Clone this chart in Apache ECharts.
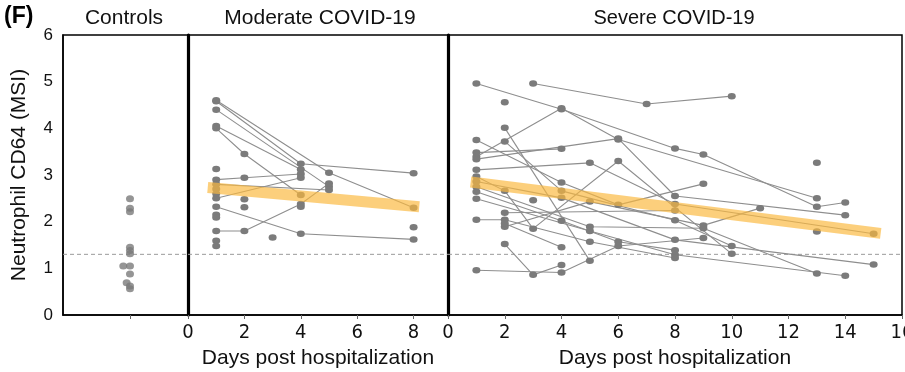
<!DOCTYPE html>
<html><head><meta charset="utf-8">
<script src="https://cdn.jsdelivr.net/npm/echarts@6/dist/echarts.min.js"></script>
<style>html,body{margin:0;padding:0;background:#fff}#c{width:905px;height:372px}</style>
</head><body><div id="c"></div>
<script>
// ---- data ----
const panelTitles = ['Controls', 'Moderate COVID-19', 'Severe COVID-19'];
const yAxisTitle = 'Neutrophil CD64 (MSI)';
const xAxisTitle = 'Days post hospitalization';
const panelLetter = '(F)';
const yMin = 0, yMax = 6, yStep = 1;
const dayStep = 2;
const controlsXMax = 1.866;
const moderateDayMax = 9.22;
const severeDayMax = 16;
const thresholdValue = 1.3;

const controlsX = [1, 1, 1, 1, 1, 1, 0.9, 1, 1, 0.95, 1, 1];
const controlsY = [2.49, 2.29, 2.21, 1.45, 1.38, 1.31, 1.05, 1.05, 0.88, 0.69, 0.62, 0.56];

const moderateSubjects = [
  [[1,4.58],[4,3.24],[8,3.04]],
  [[1,4.6],[5,3.05],[8,2.3]],
  [[1,4.4],[5,2.75]],
  [[1,4.05],[4,3.12]],
  [[1,4.0],[2,3.45],[4,2.57]],
  [[1,2.9],[2,2.94],[4,3.02]],
  [[1,2.5],[4,2.94]],
  [[1,2.32],[4,1.74],[8,1.62]],
  [[1,1.8],[2,1.8],[4,2.38],[5,2.82]],
  [[1,2.8],[5,2.68]],
  [[1,3.13]],[[1,2.7]],[[1,2.6]],[[1,2.15]],[[1,2.09]],[[1,1.59]],[[1,1.48]],
  [[2,2.48]],[[2,2.31]],[[3,1.66]],[[4,2.32]],[[8,1.88]]
];
const severeSubjects = [
  [[3,4.96],[7,4.52],[10,4.69]],
  [[1,4.96],[4,4.41],[8,3.57],[9,3.44],[13,2.32],[14,2.41]],
  [[1,3.39],[4,4.43],[6,3.76],[13,2.50]],
  [[1,3.75],[4,2.84],[6,2.36],[9,2.81]],
  [[1,3.48],[4,3.56]],
  [[1,3.34],[6,3.78],[8,2.55],[14,2.14]],
  [[2,4.01],[5,1.16]],
  [[1,3.11],[5,3.26],[8,2.38],[15,1.74]],
  [[2,3.72],[4,2.66],[8,2.03],[10,1.48]],
  [[1,2.97],[2,2.66],[3,1.85],[6,3.30],[10,1.31]],
  [[1,2.86],[4,2.51],[8,1.61],[15,1.08]],
  [[1,2.75],[5,1.89],[9,1.86],[13,0.89]],
  [[1,2.64],[4,2.02],[6,1.57],[8,1.39]],
  [[1,2.49],[5,1.80],[8,1.29],[14,0.84]],
  [[1,2.04],[2,2.04],[5,1.57],[8,1.22]],
  [[1,0.96],[4,0.91],[6,1.48],[9,1.65]],
  [[2,1.52],[3,0.86],[4,1.07]],
  [[2,1.89],[5,2.43],[9,1.92],[11,2.29]],
  [[2,1.96],[4,1.45]],
  [[2,2.19],[8,2.24]],
  [[2,4.56]],[[3,2.46]],[[13,3.26]],[[13,1.79]]
];
const moderateTrend = [[0.7,2.73],[8.2,2.32]];
const severeTrend = [[0.8,2.85],[15.25,1.75]];

// ---- chart ----
const FONT = '"Liberation Sans", Arial, sans-serif';
const NARROW = '"DejaVu Sans Condensed", "Liberation Sans", sans-serif';
const DOT = '#7b7b7b', LINE = '#8e8e8e';
const chart = echarts.init(document.getElementById('c'), null, {renderer: 'canvas'});

const grids = [
  {left: 63, top: 35, width: 125, height: 280},
  {left: 188, top: 35, width: 260, height: 280},
  {left: 448, top: 35, width: 454, height: 280}
].map(g => Object.assign(g, {show: true, borderColor: '#000', borderWidth: 1.5,
  backgroundColor: 'transparent', containLabel: false, outerBoundsMode: 'none'}));

const yAxes = [0,1,2].map(i => ({
  type: 'value', gridIndex: i, min: yMin, max: yMax, interval: yStep,
  splitLine: {show: false},
  axisTick: {show: false},
  axisLine: {show: true, lineStyle: {color: '#000', width: i === 0 ? 1.5 : 3.2}},
  axisLabel: {show: i === 0, fontSize: 17, color: '#111', fontFamily: FONT, margin: 10},
  name: i === 0 ? yAxisTitle : '', nameLocation: 'middle', nameGap: 33,
  nameTextStyle: {fontSize: 21, color: '#111', fontFamily: FONT}
}));

const xAxes = [
  {type: 'value', gridIndex: 0, min: 0, max: controlsXMax,
   axisLine: {show: true, lineStyle: {color: '#000', width: 1.5}},
   axisTick: {show: true, customValues: [1], length: 4, lineStyle: {color: '#666'}},
   axisLabel: {show: false}, splitLine: {show: false}},
  {type: 'value', gridIndex: 1, min: 0, max: moderateDayMax, interval: dayStep,
   axisLine: {show: true, lineStyle: {color: '#000', width: 1.5}},
   axisTick: {show: true, length: 4, lineStyle: {color: '#666'}},
   axisLabel: {fontSize: 20, color: '#111', fontFamily: NARROW, margin: 8, showMaxLabel: false},
   splitLine: {show: false},
   name: xAxisTitle, nameLocation: 'middle', nameGap: 33,
   nameTextStyle: {fontSize: 21, color: '#111', fontFamily: FONT}},
  {type: 'value', gridIndex: 2, min: 0, max: severeDayMax, interval: dayStep,
   axisLine: {show: true, lineStyle: {color: '#000', width: 1.5}},
   axisTick: {show: true, length: 4, lineStyle: {color: '#666'}},
   axisLabel: {fontSize: 20, color: '#111', fontFamily: NARROW, margin: 8},
   splitLine: {show: false},
   name: xAxisTitle, nameLocation: 'middle', nameGap: 33,
   nameTextStyle: {fontSize: 21, color: '#111', fontFamily: FONT}}
];

const series = [];
[[0, controlsXMax], [1, moderateDayMax], [2, severeDayMax]].forEach(([idx, mx]) => series.push({
  type: 'line', xAxisIndex: idx, yAxisIndex: idx, symbol: 'none', silent: true,
  data: [[0, thresholdValue], [mx, thresholdValue]],
  lineStyle: {type: [4, 3], color: '#9a9a9a', width: 1}, z: 1
}));
series.push({
  type: 'scatter', xAxisIndex: 0, yAxisIndex: 0,
  data: controlsY.map((v, i) => [controlsX[i], v]),
  symbol: 'circle', symbolSize: [8, 7], itemStyle: {color: DOT}, z: 4
});
function addSubjects(list, idx) {
  list.forEach(s => series.push({
    type: 'line', xAxisIndex: idx, yAxisIndex: idx, data: s,
    symbol: 'circle', symbolSize: [8, 6.5], showSymbol: true,
    itemStyle: {color: DOT}, lineStyle: {color: LINE, width: 1.1},
    z: 3
  }));
}
addSubjects(moderateSubjects, 1);
addSubjects(severeSubjects, 2);
[[moderateTrend, 1], [severeTrend, 2]].forEach(([d, idx]) => series.push({
  type: 'line', xAxisIndex: idx, yAxisIndex: idx, data: d, symbol: 'none',
  lineStyle: {color: 'rgba(251,184,62,0.68)', width: 11, cap: 'butt'}, z: 6, silent: true
}));

chart.setOption({
  animation: false,
  grid: grids, xAxis: xAxes, yAxis: yAxes, series: series,
  graphic: [
    {type: 'text', left: 4, top: 5, style: {text: panelLetter, fontSize: 23, fontWeight: 'bold', fontFamily: FONT, fill: '#000'}},
    {type: 'text', x: 124, y: 18, style: {text: panelTitles[0], fontSize: 21, fontFamily: FONT, fill: '#111', align: 'center', verticalAlign: 'middle'}},
    {type: 'text', x: 320, y: 18, style: {text: panelTitles[1], fontSize: 21, fontFamily: FONT, fill: '#111', align: 'center', verticalAlign: 'middle'}},
    {type: 'text', x: 674, y: 18, style: {text: panelTitles[2], fontSize: 20, fontFamily: FONT, fill: '#111', align: 'center', verticalAlign: 'middle'}}
  ]
});
</script></body></html>
